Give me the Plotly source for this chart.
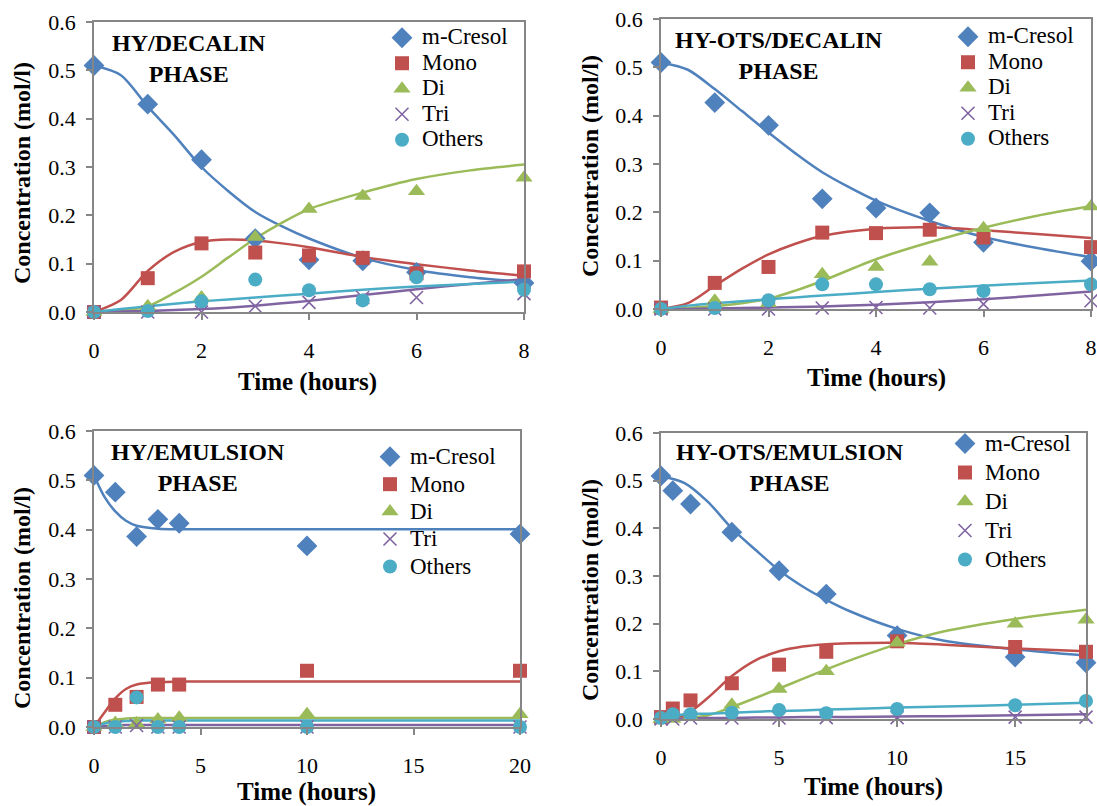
import plotly.graph_objects as go

# ---------------------------------------------------------------
# Concentration profiles (mol/l) vs time (hours), four catalyst/phase runs
# ---------------------------------------------------------------
SERIES = ["m-Cresol", "Mono", "Di", "Tri", "Others"]

# HY / DECALIN PHASE -- measured points
P1_T = [0, 1, 2, 3, 4, 5, 6, 8]
P1_CRESOL = [0.51, 0.43, 0.315, 0.152, 0.108, 0.106, 0.082, 0.060]
P1_MONO = [0.0, 0.070, 0.142, 0.123, 0.117, 0.112, 0.080, 0.084]
P1_DI = [0.0, 0.012, 0.030, 0.155, 0.213, 0.240, 0.250, 0.278]
P1_TRI = [0.0, 0.0, 0.0, 0.012, 0.020, 0.030, 0.030, 0.038]
P1_OTHERS = [0.0, 0.002, 0.022, 0.067, 0.045, 0.024, 0.072, 0.046]
# HY / DECALIN PHASE -- model curves
P1_FIT_T = [0, 0.5, 1, 1.5, 2, 2.5, 3, 3.5, 4, 5, 6, 7, 8]
P1_FIT_CRESOL = [0.51, 0.49, 0.425, 0.365, 0.300, 0.250, 0.207, 0.177, 0.152, 0.112, 0.087, 0.072, 0.062]
P1_FIT_MONO = [0.0, 0.025, 0.085, 0.125, 0.145, 0.150, 0.148, 0.142, 0.134, 0.114, 0.099, 0.086, 0.075]
P1_FIT_DI = [0.0, 0.003, 0.012, 0.040, 0.073, 0.113, 0.152, 0.185, 0.213, 0.247, 0.275, 0.293, 0.305]
P1_FIT_TRI = [0.0, 0.001, 0.002, 0.004, 0.006, 0.009, 0.013, 0.018, 0.023, 0.035, 0.047, 0.058, 0.068]
P1_FIT_OTHERS = [0.0, 0.006, 0.012, 0.017, 0.022, 0.026, 0.030, 0.034, 0.038, 0.046, 0.053, 0.058, 0.063]

# HY-OTS / DECALIN PHASE -- measured points
P2_T = [0, 1, 2, 3, 4, 5, 6, 8]
P2_CRESOL = [0.51, 0.427, 0.380, 0.228, 0.209, 0.199, 0.138, 0.099]
P2_MONO = [0.003, 0.054, 0.087, 0.158, 0.157, 0.164, 0.148, 0.128]
P2_DI = [0.0, 0.017, 0.012, 0.072, 0.087, 0.098, 0.167, 0.212]
P2_TRI = [0.0, 0.0, 0.0, 0.002, 0.003, 0.002, 0.010, 0.017]
P2_OTHERS = [0.0, 0.002, 0.018, 0.051, 0.051, 0.041, 0.037, 0.051]
# HY-OTS / DECALIN PHASE -- model curves
P2_FIT_T = [0, 0.5, 1, 1.5, 2, 2.5, 3, 4, 5, 6, 7, 8]
P2_FIT_CRESOL = [0.51, 0.495, 0.455, 0.410, 0.365, 0.322, 0.283, 0.224, 0.182, 0.149, 0.126, 0.107]
P2_FIT_MONO = [0.0, 0.012, 0.048, 0.083, 0.113, 0.135, 0.151, 0.166, 0.169, 0.163, 0.155, 0.147]
P2_FIT_DI = [0.0, 0.002, 0.006, 0.012, 0.021, 0.038, 0.058, 0.103, 0.138, 0.168, 0.193, 0.213]
P2_FIT_TRI = [0.0, 0.0, 0.001, 0.002, 0.003, 0.004, 0.005, 0.009, 0.014, 0.020, 0.028, 0.036]
P2_FIT_OTHERS = [0.0, 0.007, 0.012, 0.016, 0.020, 0.024, 0.028, 0.035, 0.042, 0.048, 0.054, 0.059]

# HY / EMULSION PHASE -- measured points
P3_T = [0, 1, 2, 3, 4, 10, 20]
P3_CRESOL = [0.51, 0.476, 0.386, 0.421, 0.413, 0.367, 0.391]
P3_MONO = [0.0, 0.045, 0.061, 0.086, 0.086, 0.114, 0.114]
P3_DI = [0.0, 0.008, 0.007, 0.015, 0.019, 0.026, 0.026]
P3_TRI = [0.0, 0.0, 0.003, 0.0, 0.0, 0.0, 0.0]
P3_OTHERS = [0.0, 0.0, 0.060, 0.0, 0.0, 0.0, 0.0]
# HY / EMULSION PHASE -- model curves
P3_FIT_T = [0, 0.5, 1, 1.5, 2, 3, 4, 10, 20]
P3_FIT_CRESOL = [0.51, 0.466, 0.437, 0.418, 0.408, 0.402, 0.401, 0.401, 0.401]
P3_FIT_MONO = [0.0, 0.030, 0.058, 0.077, 0.086, 0.091, 0.092, 0.092, 0.092]
P3_FIT_DI = [0.0, 0.010, 0.015, 0.017, 0.018, 0.018, 0.018, 0.018, 0.018]
P3_FIT_TRI = [0.0, 0.002, 0.003, 0.004, 0.004, 0.004, 0.004, 0.004, 0.004]
P3_FIT_OTHERS = [0.0, 0.007, 0.011, 0.012, 0.013, 0.013, 0.013, 0.013, 0.013]

# HY-OTS / EMULSION PHASE -- measured points
P4_T = [0, 0.5, 1.25, 3, 5, 7, 10, 15, 18]
P4_CRESOL = [0.51, 0.479, 0.451, 0.392, 0.311, 0.262, 0.175, 0.130, 0.118]
P4_MONO = [0.004, 0.022, 0.039, 0.075, 0.114, 0.141, 0.163, 0.151, 0.141]
P4_DI = [0.0, 0.0, 0.005, 0.030, 0.063, 0.100, 0.160, 0.200, 0.208]
P4_TRI = [0.0, 0.0, 0.002, 0.002, 0.002, 0.003, 0.003, 0.004, 0.004]
P4_OTHERS = [0.002, 0.010, 0.010, 0.013, 0.019, 0.012, 0.021, 0.029, 0.038]
# HY-OTS / EMULSION PHASE -- model curves
P4_FIT_T = [0, 1, 2, 3, 4, 5, 6, 7, 8, 10, 12, 15, 18]
P4_FIT_CRESOL = [0.51, 0.495, 0.455, 0.400, 0.355, 0.312, 0.278, 0.250, 0.226, 0.189, 0.164, 0.146, 0.133]
P4_FIT_MONO = [0.0, 0.008, 0.045, 0.090, 0.123, 0.142, 0.152, 0.157, 0.159, 0.160, 0.156, 0.148, 0.142]
P4_FIT_DI = [0.0, 0.002, 0.008, 0.025, 0.044, 0.064, 0.084, 0.104, 0.123, 0.157, 0.184, 0.210, 0.229]
P4_FIT_TRI = [0.0, 0.001, 0.002, 0.002, 0.003, 0.003, 0.004, 0.004, 0.004, 0.005, 0.006, 0.008, 0.010]
P4_FIT_OTHERS = [0.0, 0.010, 0.011, 0.013, 0.015, 0.017, 0.018, 0.020, 0.021, 0.024, 0.026, 0.030, 0.034]

PANEL_TITLES = ["HY/DECALIN", "HY-OTS/DECALIN", "HY/EMULSION", "HY-OTS/EMULSION"]
X_TICKS = [[0, 2, 4, 6, 8], [0, 2, 4, 6, 8], [0, 5, 10, 15, 20], [0, 5, 10, 15]]
X_MAX = [8, 8, 20, 18]
Y_TICKS = [0.0, 0.1, 0.2, 0.3, 0.4, 0.5, 0.6]

# ---------------------------------------------------------------
# Styling
# ---------------------------------------------------------------
W, H = 1097, 806
FONT = "'Times New Roman', 'Liberation Serif', serif"
AXIS_GREY = "#868686"

COLORS = ["#4F81BD", "#C0504D", "#9BBB59", "#8064A2", "#4BACC6"]
SYMBOLS = ["diamond", "square", "triangle-up", "x-thin", "circle"]
SIZES = [16, 14, 15, 13, 14]

# plot-area boxes in pixels: (left, right, top, bottom)
BOXES = [(94, 524, 22, 312), (661, 1091, 19, 309), (94, 520, 431, 727), (661, 1086, 433, 719)]
TITLE_POS = [(189, 58), (779, 55), (198, 467), (790, 467)]
XLABEL_POS = [(307, 382), (876, 378), (306, 792), (873, 787)]
YLABEL_POS = [(22, 173), (590, 166), (22, 598), (590, 590)]
# legend anchor (px) and the row pitch given by its base font size
LEGEND_POS = [(382, 20), (948, 19), (370, 438), (945, 424)]
LEGEND_ROW_FONT = [17.3, 17.3, 18.8, 20]
LEGEND_TEXT_SIZE = 23


def px(x):
    return x / W


def py(y):
    return 1 - y / H


panels = [
    (P1_T, [P1_CRESOL, P1_MONO, P1_DI, P1_TRI, P1_OTHERS],
     P1_FIT_T, [P1_FIT_CRESOL, P1_FIT_MONO, P1_FIT_DI, P1_FIT_TRI, P1_FIT_OTHERS]),
    (P2_T, [P2_CRESOL, P2_MONO, P2_DI, P2_TRI, P2_OTHERS],
     P2_FIT_T, [P2_FIT_CRESOL, P2_FIT_MONO, P2_FIT_DI, P2_FIT_TRI, P2_FIT_OTHERS]),
    (P3_T, [P3_CRESOL, P3_MONO, P3_DI, P3_TRI, P3_OTHERS],
     P3_FIT_T, [P3_FIT_CRESOL, P3_FIT_MONO, P3_FIT_DI, P3_FIT_TRI, P3_FIT_OTHERS]),
    (P4_T, [P4_CRESOL, P4_MONO, P4_DI, P4_TRI, P4_OTHERS],
     P4_FIT_T, [P4_FIT_CRESOL, P4_FIT_MONO, P4_FIT_DI, P4_FIT_TRI, P4_FIT_OTHERS]),
]

fig = go.Figure()
layout = dict(
    width=W, height=H,
    margin=dict(l=0, r=0, t=0, b=0),
    paper_bgcolor="white", plot_bgcolor="white",
    font=dict(family=FONT, color="black"),
    annotations=[],
)

for i, (t, pts, ft, fits) in enumerate(panels):
    n = i + 1
    xa = "x" if n == 1 else f"x{n}"
    ya = "y" if n == 1 else f"y{n}"
    leg = "legend" if n == 1 else f"legend{n}"

    # model curves first so markers sit on top
    for k in range(5):
        fig.add_trace(go.Scatter(
            x=ft, y=fits[k], mode="lines", xaxis=xa, yaxis=ya,
            line=dict(color=COLORS[k], width=2.5, shape="spline", smoothing=0.8),
            showlegend=False, hoverinfo="skip", cliponaxis=False,
        ))
    for k in range(5):
        marker = dict(symbol=SYMBOLS[k], size=SIZES[k], color=COLORS[k])
        if SYMBOLS[k] == "x-thin":
            marker["line"] = dict(color=COLORS[k], width=1.6)
        fig.add_trace(go.Scatter(
            x=t, y=pts[k], mode="markers", xaxis=xa, yaxis=ya,
            name=f"<span style='font-size:{LEGEND_TEXT_SIZE}px'>{SERIES[k]}</span>",
            marker=marker, legend=leg, cliponaxis=False,
        ))

    left, right, top, bottom = BOXES[i]
    axis_common = dict(
        showline=True, linecolor=AXIS_GREY, linewidth=1.5, mirror=True,
        ticks="outside", ticklen=6, tickcolor=AXIS_GREY, tickwidth=1.5,
        showgrid=False, zeroline=False, automargin=False,
        tickfont=dict(family=FONT, size=22, color="black"),
    )
    layout["xaxis" if n == 1 else f"xaxis{n}"] = dict(
        axis_common, domain=[px(left), px(right)], range=[0, X_MAX[i]],
        tickvals=X_TICKS[i], anchor=ya, ticklabelstandoff=12,
    )
    layout["yaxis" if n == 1 else f"yaxis{n}"] = dict(
        axis_common, domain=[py(bottom), py(top)], range=[0, 0.6],
        tickvals=Y_TICKS, tickformat=".1f", anchor=xa, ticklabelstandoff=6,
    )

    lx, ly = LEGEND_POS[i]
    layout[leg] = dict(
        x=px(lx), y=py(ly), xanchor="left", yanchor="top",
        bgcolor="rgba(0,0,0,0)", borderwidth=0, itemwidth=30,
        font=dict(family=FONT, size=LEGEND_ROW_FONT[i], color="black"),
        tracegroupgap=0,
    )

    tx, ty = TITLE_POS[i]
    layout["annotations"].append(dict(
        xref="paper", yref="paper", x=px(tx), y=py(ty), showarrow=False,
        text=f"<b>{PANEL_TITLES[i]}<br>PHASE</b>", align="center",
        xanchor="center", yanchor="middle",
        font=dict(family=FONT, size=24, color="black"),
    ))
    xx, xy = XLABEL_POS[i]
    layout["annotations"].append(dict(
        xref="paper", yref="paper", x=px(xx), y=py(xy), showarrow=False,
        text="<b>Time (hours)</b>", xanchor="center", yanchor="middle",
        font=dict(family=FONT, size=25, color="black"),
    ))
    yx, yy = YLABEL_POS[i]
    layout["annotations"].append(dict(
        xref="paper", yref="paper", x=px(yx), y=py(yy), showarrow=False,
        text="<b>Concentration (mol/l)</b>", textangle=-90,
        xanchor="center", yanchor="middle",
        font=dict(family=FONT, size=24, color="black"),
    ))

fig.update_layout(**layout)
fig.write_html("out.html")
